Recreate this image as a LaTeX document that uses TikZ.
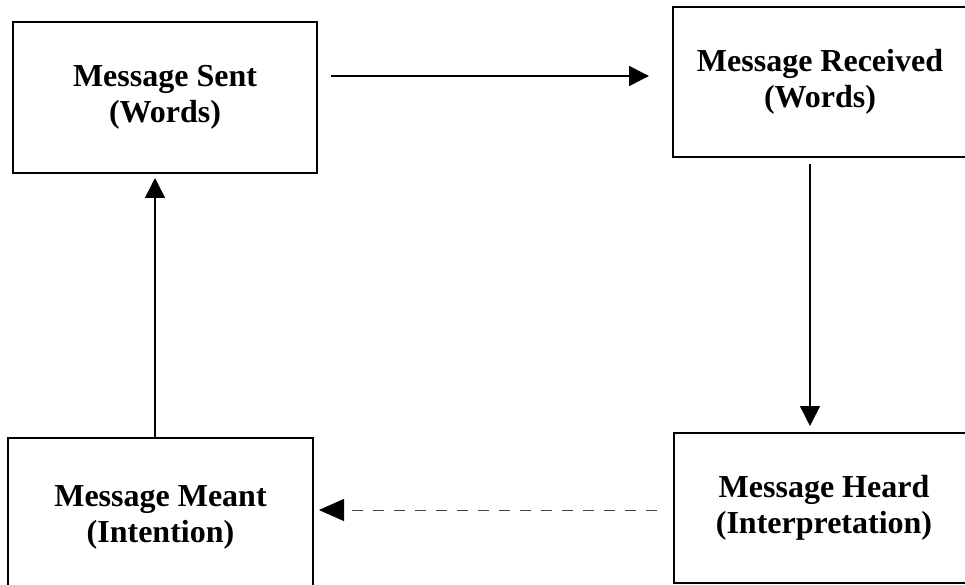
\documentclass[tikz,border=0pt]{standalone}
\usepackage{fontspec}
\setmainfont{Liberation Serif}
\usetikzlibrary{arrows.meta,calc}
\begin{document}
\begin{tikzpicture}[x=1pt,y=-1pt,
  box/.style={draw=black,line width=2pt,rectangle,align=center,inner sep=0pt,
    font=\bfseries\fontsize{32}{36}\selectfont},
  arr/.style={line width=1.5pt,-{Triangle[length=20pt,width=20pt]}},
  darr/.style={line width=1pt,draw=black!75,dash pattern=on 11pt off 10pt,
    -{Triangle[length=25pt,width=22pt,color=black,fill=black]}}]
\useasboundingbox (0,0) rectangle (965,585);
\clip (0,0) rectangle (965,585);
\node[box,minimum width=304pt,minimum height=151pt] (sent) at (165,97.5) {Message Sent\\(Words)};
\node[box,minimum width=294pt,minimum height=150pt] (recv) at (820,82) {Message Received\\(Words)};
\node[box,minimum width=305pt,minimum height=158pt] (meant) at (160.5,517) {Message Meant\\(Intention)};
\node[box,minimum width=300pt,minimum height=150pt] (heard) at (824,508) {Message Heard\\(Interpretation)};
\draw[arr] ($(sent.east |- 0,76)+(13,0)$) -- ($(recv.west |- 0,76)+(-23,0)$);
\draw[arr] ($(recv.south -| 810,0)+(0,6)$) -- ($(heard.north -| 810,0)+(0,-6)$);
\draw[arr] (meant.north -| 155,0) -- ($(sent.south -| 155,0)+(0,4)$);
\draw[darr] ($(heard.west |- 0,510)+(-16,0)$) -- ($(meant.east |- 0,510)+(5,0)$);
\end{tikzpicture}
\end{document}
